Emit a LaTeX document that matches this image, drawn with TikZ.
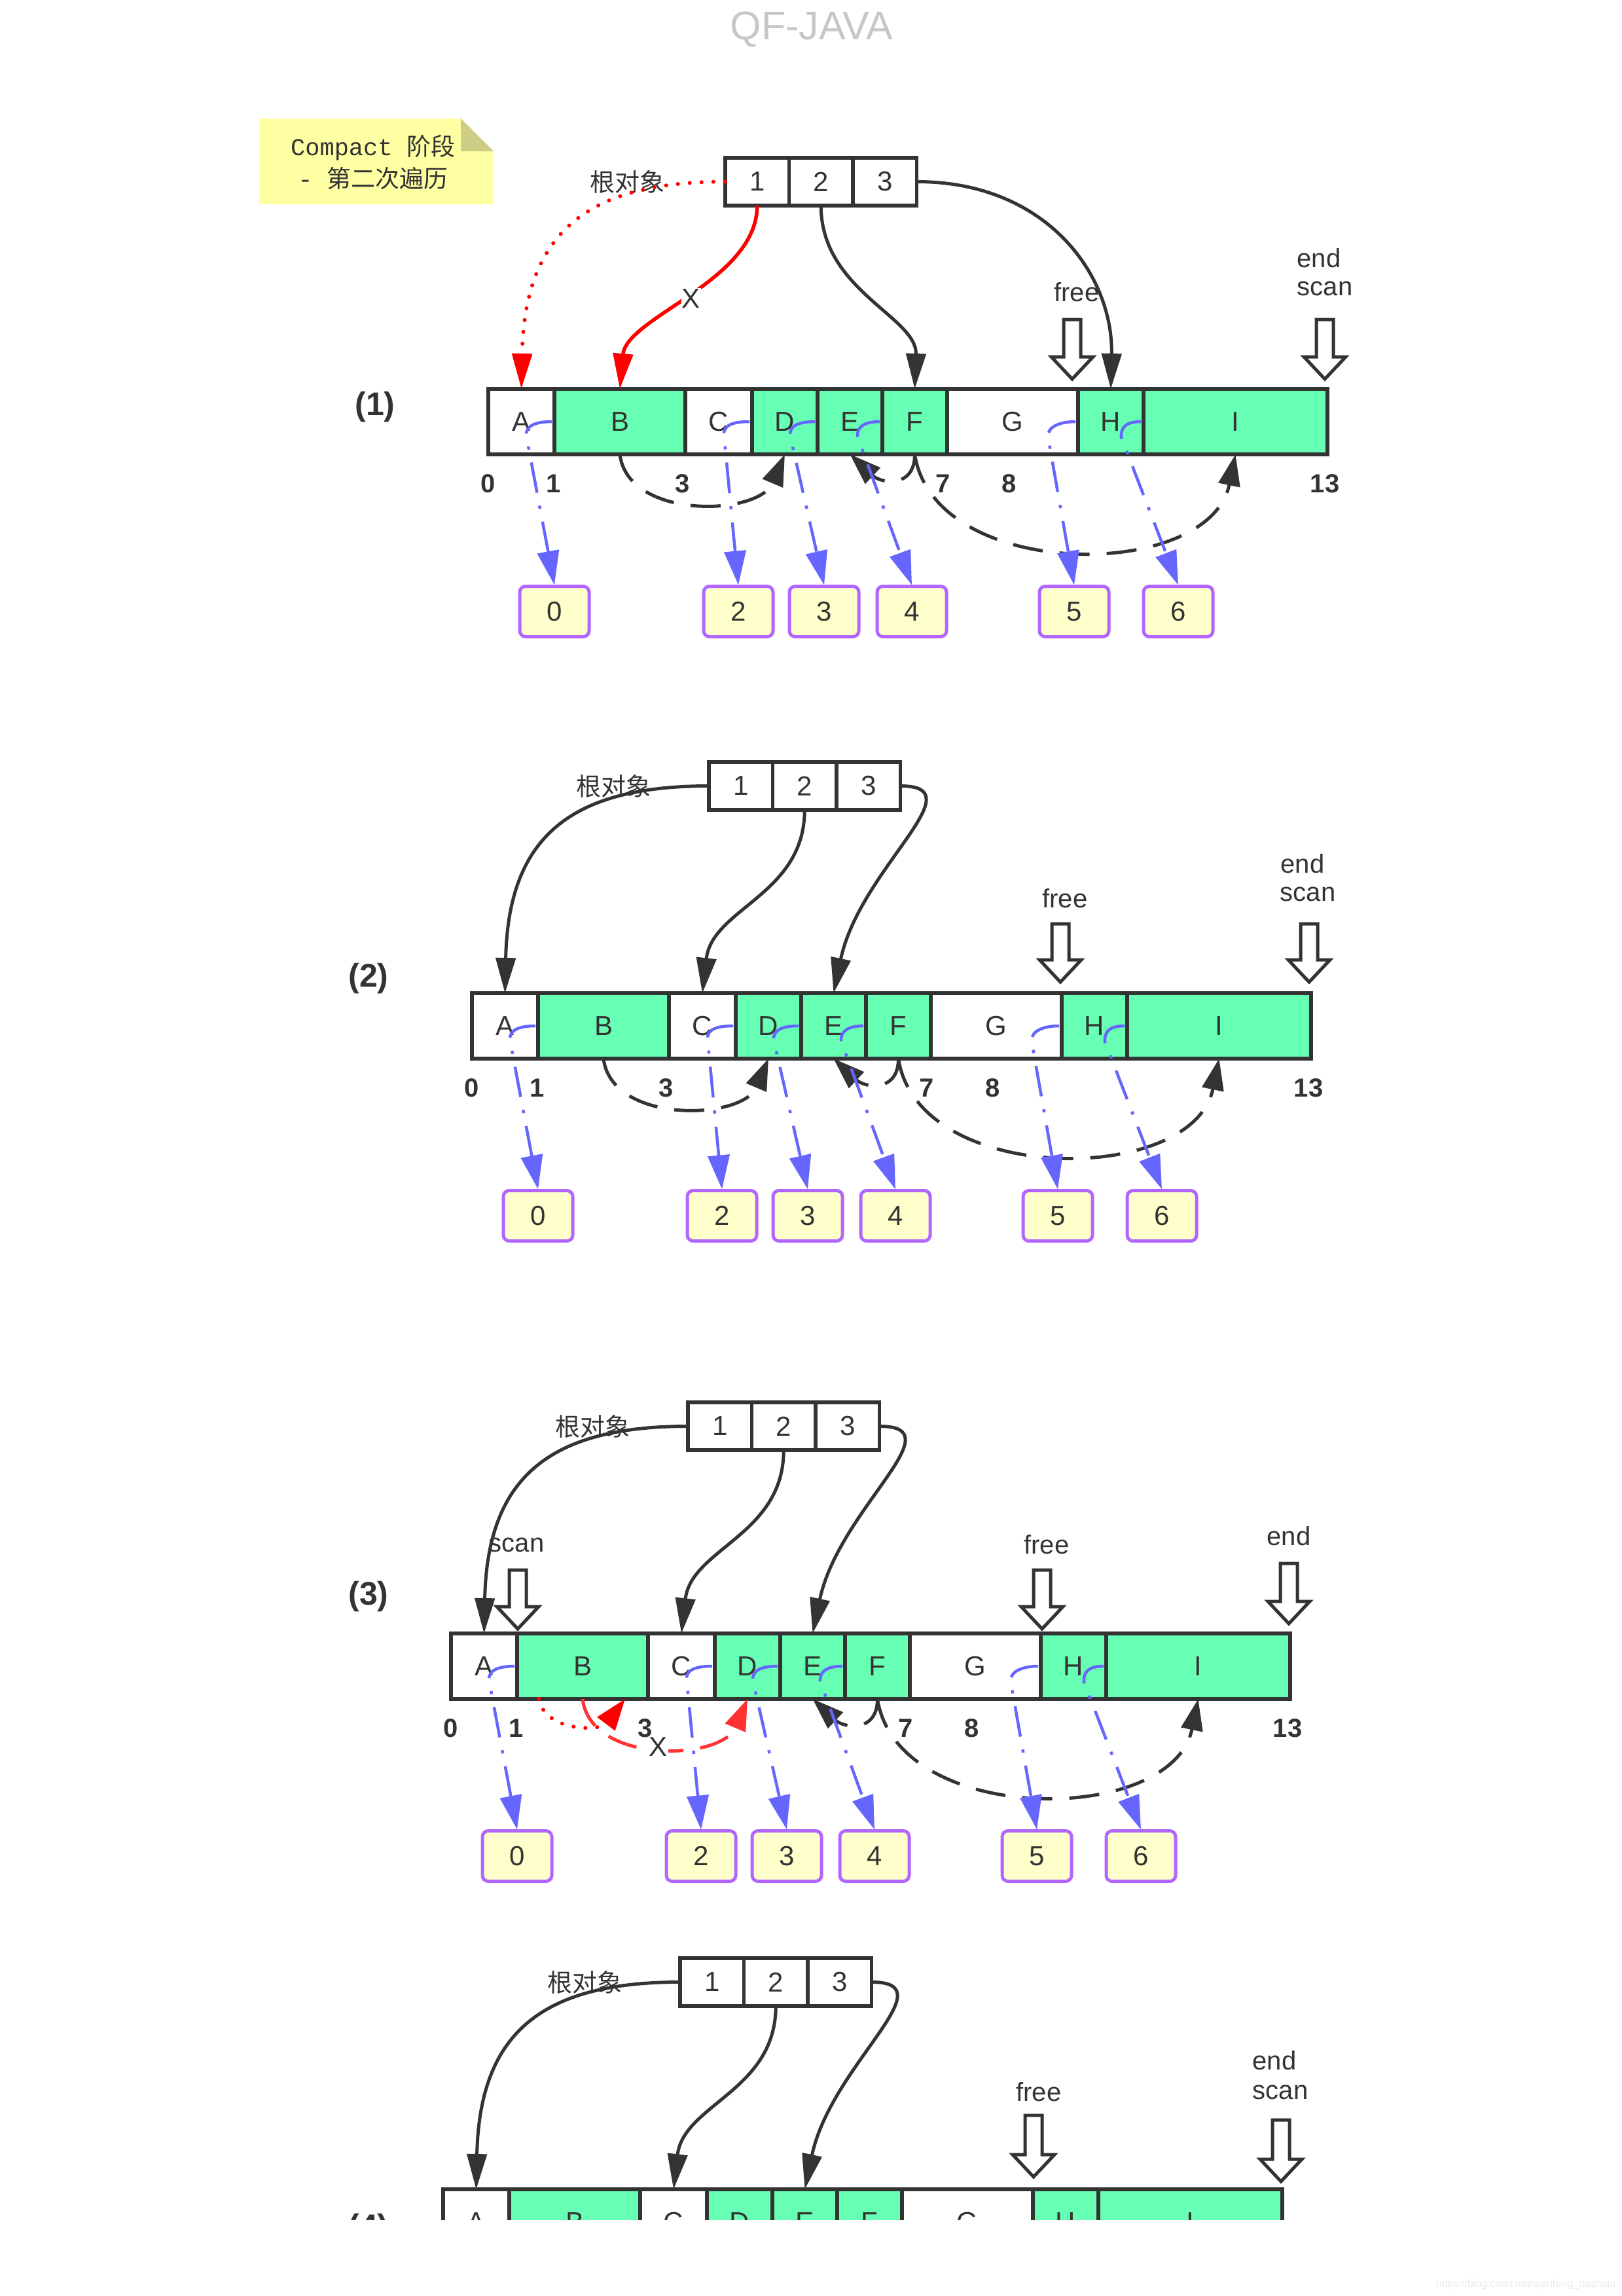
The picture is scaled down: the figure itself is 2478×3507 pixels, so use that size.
\documentclass[tikz,border=0pt]{standalone}
\usepackage{fontspec}
\setmainfont{Liberation Sans}
\newfontfamily\cjk{Noto Sans CJK SC}
\newfontfamily\notemono{Liberation Mono}
\usetikzlibrary{arrows.meta,calc}
\definecolor{ink}{HTML}{333333}
\definecolor{cellgreen}{HTML}{66FFB3}
\definecolor{linkblue}{HTML}{6666FF}
\definecolor{boxpurple}{HTML}{B266FF}
\definecolor{boxyellow}{HTML}{FFFFCC}
\definecolor{notefill}{HTML}{FFFFA3}
\definecolor{notefold}{HTML}{CDCD85}
\definecolor{softred}{HTML}{FF3333}
\tikzset{
 txt/.style={font=\fontsize{42}{48}\selectfont,text=ink,inner sep=0pt},
 small/.style={font=\fontsize{40}{46}\selectfont,text=ink,inner sep=0pt},
 cellw/.style={txt,draw=ink,line width=5.5pt,fill=white,minimum height=100pt,outer sep=0pt},
 cellg/.style={cellw,fill=cellgreen},
 rootcell/.style={cellw,minimum height=73pt,minimum width=97.5pt},
 idx/.style={font=\fontsize{40}{46}\selectfont\bfseries,text=ink,inner sep=0pt},
 panellabel/.style={font=\fontsize{50}{56}\selectfont\bfseries,text=ink,inner sep=0pt},
 idbox/.style={txt,draw=boxpurple,line width=5pt,fill=boxyellow,rounded corners=9pt,minimum width=106pt,minimum height=77pt,outer sep=2pt},
 blocky/.style={draw=ink,line width=5pt,fill=white,line join=miter},
 solidlink/.style={draw=ink,line width=5pt,-{Triangle[length=54pt,width=30pt]}},
 redlink/.style={draw=red,line width=5.5pt,-{Triangle[length=54pt,width=30pt]}},
 reddots/.style={draw=red,line width=6pt,line cap=round,dash pattern=on 0.1pt off 18pt},
 arclink/.style={draw=ink,line width=5pt,dash pattern=on 46pt off 26pt,-{Triangle[length=48pt,width=33pt]}},
 bluelink/.style={draw=linkblue,line width=4.5pt,dash pattern=on 47pt off 20pt on 5pt off 20pt,shorten <=4pt,-{Triangle[length=52pt,width=33pt]}},
 xmark/.style={txt,fill=white,inner sep=1pt},
}
\newcommand{\rowcells}[1]{%
 \node[cellw,minimum width=101pt] (#1A) at (50.5,50) {A};
 \node[cellg,minimum width=200pt] (#1B) at (201,50) {B};
 \node[cellw,minimum width=102pt] (#1C) at (352,50) {C};
 \node[cellg,minimum width=100pt] (#1D) at (453,50) {D};
 \node[cellg,minimum width=99pt] (#1E) at (552.5,50) {E};
 \node[cellg,minimum width=99pt] (#1F) at (651.5,50) {F};
 \node[cellw,minimum width=200pt] (#1G) at (801,50) {G};
 \node[cellg,minimum width=100pt] (#1H) at (951,50) {H};
 \node[cellg,minimum width=281pt] (#1I) at (1141.5,50) {I};
}
\newcommand{\rootcells}[2]{%
 \node[rootcell] (#1r1) at (410.75,-316.5) {1};
 \node[rootcell] (#1r2) at (508.25,-316.5) {2};
 \node[rootcell] (#1r3) at (605.75,-316.5) {3};
 \node[txt,font=\fontsize{38}{44}\selectfont] (#1rl) at (#2,-316.5) {\cjk 根对象};
}
\newcommand{\rownumbers}[1]{%
 \node[idx] (#1n0) at (0,145) {0};
 \node[idx] (#1n1) at (100,145) {1};
 \node[idx] (#1n3) at (297,145) {3};
 \node[idx] (#1n7) at (695,145) {7};
 \node[idx] (#1n8) at (796,145) {8};
 \node[idx] (#1n13) at (1278,145) {13};
}
\newcommand{\idboxes}[1]{%
 \node[idbox] (#1b0) at (101,340) {0};
 \node[idbox] (#1b2) at (382,340) {2};
 \node[idbox] (#1b3) at (513,340) {3};
 \node[idbox] (#1b4) at (647,340) {4};
 \node[idbox] (#1b5) at (895,340) {5};
 \node[idbox] (#1b6) at (1054,340) {6};
}
\newcommand{\onelink}[5]{%
 \coordinate (#1e#2) at (#4,#5);
 \draw[bluelink] (#1#2.east) .. controls +(-26,0) and +(-1,-16) .. (#1e#2) -- (#1b#3.north);
}
\newcommand{\bluelinks}[1]{%
 \onelink{#1}{A}{0}{58}{71}
 \onelink{#1}{C}{2}{360}{70}
 \onelink{#1}{D}{3}{461}{71}
 \onelink{#1}{E}{4}{564}{73}
 \onelink{#1}{G}{5}{855}{73}
 \onelink{#1}{H}{6}{967}{74}
}
\newcommand{\blockarr}[3]{%
 \draw[blocky] ({#1-13},#2) -- ({#1+13},#2) -- ({#1+13},{#3-34}) -- ({#1+32},{#3-34}) -- (#1,#3) -- ({#1-32},{#3-34}) -- ({#1-13},{#3-34}) -- cycle;
}
\newcommand{\arcBD}[1]{%
 \draw[arclink] (#1B.south) .. controls +(12,100) and +(-40,95) .. (#1D.south);
}
\newcommand{\arcsF}[1]{%
 \draw[arclink] (#1F.south) .. controls +(0,52) and +(48,45) .. (#1E.south);
 \draw[arclink] (#1F.south) .. controls +(30,195) and +(-40,195) .. (#1I.south);
}
\newcommand{\rootlinks}[1]{%
 \draw[solidlink] (#1r1.west) .. controls +(-210,0) and +(5,-240) .. (#1A.north);
 \draw[solidlink] (#1r2.south) .. controls +(0,130) and +(15,-130) .. (#1C.north);
 \draw[solidlink] (#1r3.east) .. controls +(118,0) and +(40,-190) .. (#1E.north);
}
\begin{document}
\begin{tikzpicture}[x=1pt,y=-1pt]
\path[use as bounding box,fill=white] (0,0) rectangle (2478,3507);
% title
\node[inner sep=0pt,text=black!22,font=\fontsize{61}{66}\selectfont] (title) at (1240,45) {QF-JAVA};
% note
\fill[notefill] (396,181) -- (704,181) -- (754,231) -- (754,312) -- (396,312) -- cycle;
\fill[notefold] (704,181) -- (754,231) -- (704,231) -- cycle;
\node[text=ink,inner sep=0pt,align=center,font=\fontsize{37}{49}\selectfont\notemono] (notetext) at (570,248) {Compact {\cjk 阶段}\\- {\cjk 第二次遍历}};
% panel labels
\node[panellabel] (lab1) at (573,622) {(1)};
\node[panellabel] (lab2) at (563,1495) {(2)};
\node[panellabel] (lab3) at (563,2439) {(3)};
% panel 1
\begin{scope}[shift={(746,594)}]
 \rowcells{p1} \rootcells{p1}{212} \rownumbers{p1} \idboxes{p1}
 \node[small] (p1free) at (899,-148) {free};
 \node[small] (p1end) at (1269,-200) {end};
 \node[small] (p1scan) at (1278,-153) {scan};
 \blockarr{892}{-106}{-15}
 \blockarr{1278}{-106}{-15}
 \draw[reddots,-{Triangle[length=54pt,width=30pt]}] (p1r1.west) .. controls +(-210,0) and +(5,-240) .. (p1A.north);
 \draw[redlink] (p1r1.south) .. controls +(0,115) and +(10,-110) .. node[xmark,pos=0.5] (p1x) {X} (p1B.north);
 \draw[solidlink] (p1r2.south) .. controls +(0,130) and +(4,-110) .. (p1F.north);
 \draw[solidlink] (p1r3.east) .. controls +(200,0) and +(4,-172) .. (p1H.north);
 \arcBD{p1} \arcsF{p1} \bluelinks{p1}
\end{scope}
% panel 2
\begin{scope}[shift={(721,1517)}]
 \rowcells{p2} \rootcells{p2}{216} \rownumbers{p2} \idboxes{p2}
 \node[small] (p2free) at (906,-145) {free};
 \node[small] (p2end) at (1269,-198) {end};
 \node[small] (p2scan) at (1277,-151) {scan};
 \blockarr{899}{-106}{-17}
 \blockarr{1279}{-106}{-17}
 \rootlinks{p2}
 \arcBD{p2} \arcsF{p2} \bluelinks{p2}
\end{scope}
% panel 3
\begin{scope}[shift={(689,2495)}]
 \rowcells{p3} \rootcells{p3}{216} \rownumbers{p3} \idboxes{p3}
 \node[small] (p3scanl) at (100,-135) {scan};
 \node[small] (p3free) at (910,-136) {free};
 \node[small] (p3end) at (1280,-149) {end};
 \blockarr{102}{-97}{-7}
 \blockarr{903}{-97}{-7}
 \blockarr{1280}{-107}{-15}
 \rootlinks{p3}
 \arcsF{p3}
 \draw[arclink,draw=softred] (p3B.south) .. controls +(12,100) and +(-40,95) .. node[xmark,pos=0.5] (p3x) {X} (p3D.south);
 \draw[reddots,-{Triangle[length=48pt,width=33pt]}] ([xshift=-67pt]p3B.south) .. controls +(10,50) and +(-38,50) .. ([xshift=65pt]p3B.south);
 \bluelinks{p3}
\end{scope}
% panel 4, cut off by the lower edge of the source image
\begin{scope}
 \clip (0,0) rectangle (2478,3390);
 \node[panellabel] (lab4) at (563,3405) {(4)};
 \begin{scope}[shift={(677,3344)}]
  \rowcells{p4} \rootcells{p4}{216}
  \node[small] (p4free) at (910,-149) {free};
  \node[small] (p4end) at (1270,-197) {end};
  \node[small] (p4scan) at (1279,-148) {scan};
  \blockarr{902}{-113}{-19}
  \blockarr{1280}{-106}{-12}
  \rootlinks{p4}
 \end{scope}
\end{scope}
% watermark
\node[inner sep=0pt,text=black!8,font=\fontsize{16}{18}\selectfont] (mark) at (2331,3489) {https://blog.csdn.net/qianfeng\_dashuju};
\end{tikzpicture}
\end{document}
